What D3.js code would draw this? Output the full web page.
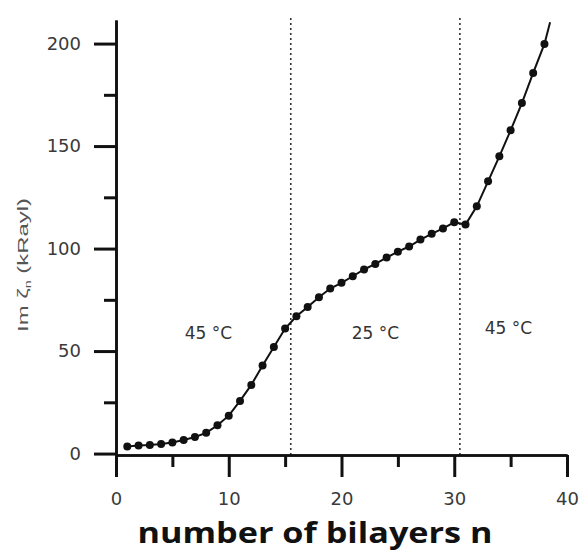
<!DOCTYPE html>
<html>
<head>
<meta charset="utf-8">
<script src="https://cdn.jsdelivr.net/npm/d3@7"></script>
<style>
  html, body { margin: 0; padding: 0; background: #fff; }
  svg { display: block; }
</style>
</head>
<body>
<svg id="chart" width="581" height="554"></svg>
<script>
// ---- data ----
const bilayers = [1,2,3,4,5,6,7,8,9,10,11,12,13,14,15,16,17,18,19,20,21,22,23,24,25,26,27,28,29,30,31,32,33,34,35,36,37,38];
const imZeta   = [3.5,3.9,4.2,4.7,5.4,6.6,8.1,10.1,13.8,18.5,25.7,33.5,43,52,61,67,71.5,76.3,80.5,83.3,86.5,89.8,92.5,95.6,98.5,101,104.4,107.2,109.8,112.8,111.7,120.6,132.8,145,157.7,171,185.7,199.8];
const lineTailN = [38.5];
const lineTailV = [210.4];
const boundaries = [15.5, 30.5];
const regionLabels = ["45 °C", "25 °C", "45 °C"];
const regionLabelN = [6.1, 20.9, 32.7];
const regionLabelV = [56, 56, 58.5];
const xMajorTicks = [0,10,20,30,40];
const xMinorTicks = [5,15,25,35];
const yMajorTicks = [0,50,100,150,200];
const yMinorTicks = [25,75,125,175];
const xTitle = "number of bilayers n";

// ---- layout ----
const svg = d3.select("#chart");
const x = d3.scaleLinear().domain([0, 40]).range([116, 567]);
const y = d3.scaleLinear().domain([-0.7, 211.5]).range([455, 20]);
const x0 = 116, yBase = 455;

// dotted boundaries
svg.selectAll("line.bound").data(boundaries).enter().append("line")
  .attr("class","bound")
  .attr("x1", d => x(d)).attr("x2", d => x(d))
  .attr("y1", y(212.5)).attr("y2", yBase)
  .attr("stroke", "#333").attr("stroke-width", 1.6)
  .attr("stroke-dasharray", "2,3");

// axes
const tickFont = "DejaVu Sans, sans-serif";
const gx = svg.append("g").attr("transform", `translate(0,${yBase})`)
  .call(d3.axisBottom(x).tickValues(xMajorTicks).tickSize(22).tickPadding(15).tickSizeOuter(0));
const gxm = svg.append("g").attr("transform", `translate(0,${yBase})`)
  .call(d3.axisBottom(x).tickValues(xMinorTicks).tickSize(12).tickFormat("").tickSizeOuter(0));
const gy = svg.append("g").attr("transform", `translate(${x0},0)`)
  .call(d3.axisLeft(y).tickValues(yMajorTicks).tickSize(22).tickPadding(13).tickSizeOuter(0));
const gym = svg.append("g").attr("transform", `translate(${x0},0)`)
  .call(d3.axisLeft(y).tickValues(yMinorTicks).tickSize(12).tickFormat("").tickSizeOuter(0));

[gx, gxm, gy, gym].forEach(g => {
  g.selectAll("path.domain").attr("stroke", "#111").attr("stroke-width", 2.6);
  g.selectAll(".tick line").attr("stroke", "#111").attr("stroke-width", 3);
  g.selectAll(".tick text").attr("fill", "#3a3a3a")
    .style("font-family", tickFont).style("font-size", "18px");
});

// data line + markers
const line = d3.line().x(d => x(d[0])).y(d => y(d[1]));
const pts = bilayers.map((n, i) => [n, imZeta[i]]);
const linePts = pts.concat(lineTailN.map((n, i) => [n, lineTailV[i]]));
svg.append("path").datum(linePts)
  .attr("d", line).attr("fill", "none")
  .attr("stroke", "#111").attr("stroke-width", 2);
svg.selectAll("circle.pt").data(pts).enter().append("circle")
  .attr("class","pt")
  .attr("cx", d => x(d[0])).attr("cy", d => y(d[1]))
  .attr("r", 4).attr("fill", "#111");

// region labels
svg.selectAll("text.region").data(regionLabels).enter().append("text")
  .attr("class","region")
  .attr("x", (d, i) => x(regionLabelN[i])).attr("y", (d, i) => y(regionLabelV[i]))
  .attr("fill", "#333")
  .style("font-family", tickFont).style("font-size", "17px")
  .text(d => d);

// y-axis label
const yl = svg.append("text")
  .attr("transform", "translate(28,265) rotate(-90)")
  .attr("text-anchor", "middle")
  .attr("fill", "#555")
  .attr("textLength", 134).attr("lengthAdjust", "spacingAndGlyphs")
  .style("font-family", "Liberation Sans, Arial, sans-serif").style("font-size", "15px");
yl.append("tspan").text("Im ζ");
yl.append("tspan").attr("dy", 3).style("font-size", "9px").text("n");
yl.append("tspan").attr("dy", -3).text(" (kRayl)");

// x title
svg.append("text")
  .attr("x", 315).attr("y", 543)
  .attr("text-anchor", "middle")
  .attr("fill", "#111")
  .attr("textLength", 355).attr("lengthAdjust", "spacingAndGlyphs")
  .style("font-family", "Open Sans, sans-serif").style("font-weight", "bold").style("font-size", "29px")
  .text(xTitle);
</script>
</body>
</html>
